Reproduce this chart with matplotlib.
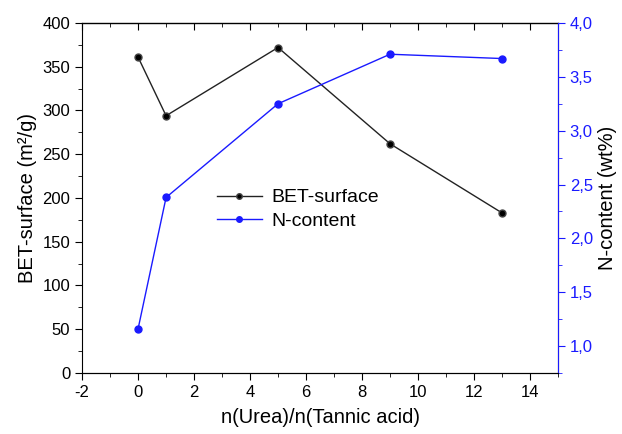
import matplotlib
matplotlib.use('Agg')
import matplotlib.pyplot as plt
from matplotlib.ticker import MultipleLocator, FuncFormatter

plt.rcParams['font.family'] = ['Liberation Sans', 'DejaVu Sans']
plt.rcParams['axes.unicode_minus'] = False

ratio = [0, 1, 5, 9, 13]
bet_surface = [361, 294, 372, 262, 183]
n_content = [1.16, 2.38, 3.25, 3.71, 3.67]

blue = '#1a1aff'

fig = plt.figure(figsize=(6.22, 4.34), dpi=100)
ax1 = fig.add_axes([0.132, 0.1406, 0.765, 0.8064])
ax2 = ax1.twinx()

l1, = ax1.plot(ratio, bet_surface, color='#222222', lw=1.0, marker='o', ms=5,
               mfc='black', mec='#444444', label='BET-surface')
l2, = ax2.plot(ratio, n_content, color=blue, lw=1.0, marker='o', ms=5,
               mfc=blue, mec=blue, label='N-content')

ax1.set_xlim(-2, 15)
ax1.set_ylim(0, 400)
ax2.set_ylim(0.75, 4.0)

ax1.xaxis.set_major_locator(MultipleLocator(2))
ax1.xaxis.set_minor_locator(MultipleLocator(1))
ax1.yaxis.set_major_locator(MultipleLocator(50))
ax1.yaxis.set_minor_locator(MultipleLocator(25))
ax2.yaxis.set_major_locator(MultipleLocator(0.5))
ax2.yaxis.set_minor_locator(MultipleLocator(0.25))
ax2.yaxis.set_major_formatter(FuncFormatter(lambda v, p: f'{v:.1f}'.replace('.', ',')))

ax1.tick_params(axis='x', which='both', direction='out', labelsize=12)
ax1.tick_params(axis='x', which='major', length=5)
ax1.tick_params(axis='x', which='minor', length=3)
ax1.tick_params(axis='y', which='major', direction='out', length=5, labelsize=12)
ax1.tick_params(axis='y', which='minor', direction='out', length=3)
ax2.tick_params(axis='y', which='major', direction='out', length=5, colors=blue, labelsize=12)
ax2.tick_params(axis='y', which='minor', direction='out', length=3, colors=blue)

# top axis with inward ticks, no labels
top = ax1.secondary_xaxis('top')
top.xaxis.set_major_locator(MultipleLocator(2))
top.xaxis.set_minor_locator(MultipleLocator(1))
top.tick_params(axis='x', which='major', direction='in', length=5, labeltop=False)
top.tick_params(axis='x', which='minor', direction='in', length=3)
top.spines['top'].set_linewidth(1.0)

ax2.spines['right'].set_color(blue)
ax2.spines['left'].set_visible(False)
ax1.spines['top'].set_visible(False)
ax2.spines['top'].set_visible(False)

ax1.set_xlabel('n(Urea)/n(Tannic acid)', fontsize=14.5, labelpad=6)
ax1.set_ylabel('BET-surface (m²/g)', fontsize=14.5)
ax2.set_ylabel('N-content (wt%)', fontsize=14.5, color='black')

ax1.legend([l1, l2], ['BET-surface', 'N-content'], loc='upper left',
           bbox_to_anchor=(0.255, 0.565), frameon=False, fontsize=14,
           handlelength=2.3, handletextpad=0.5, borderpad=0.2,
           labelspacing=0.3, markerscale=0.8)

fig.savefig('out.png', dpi=100)
